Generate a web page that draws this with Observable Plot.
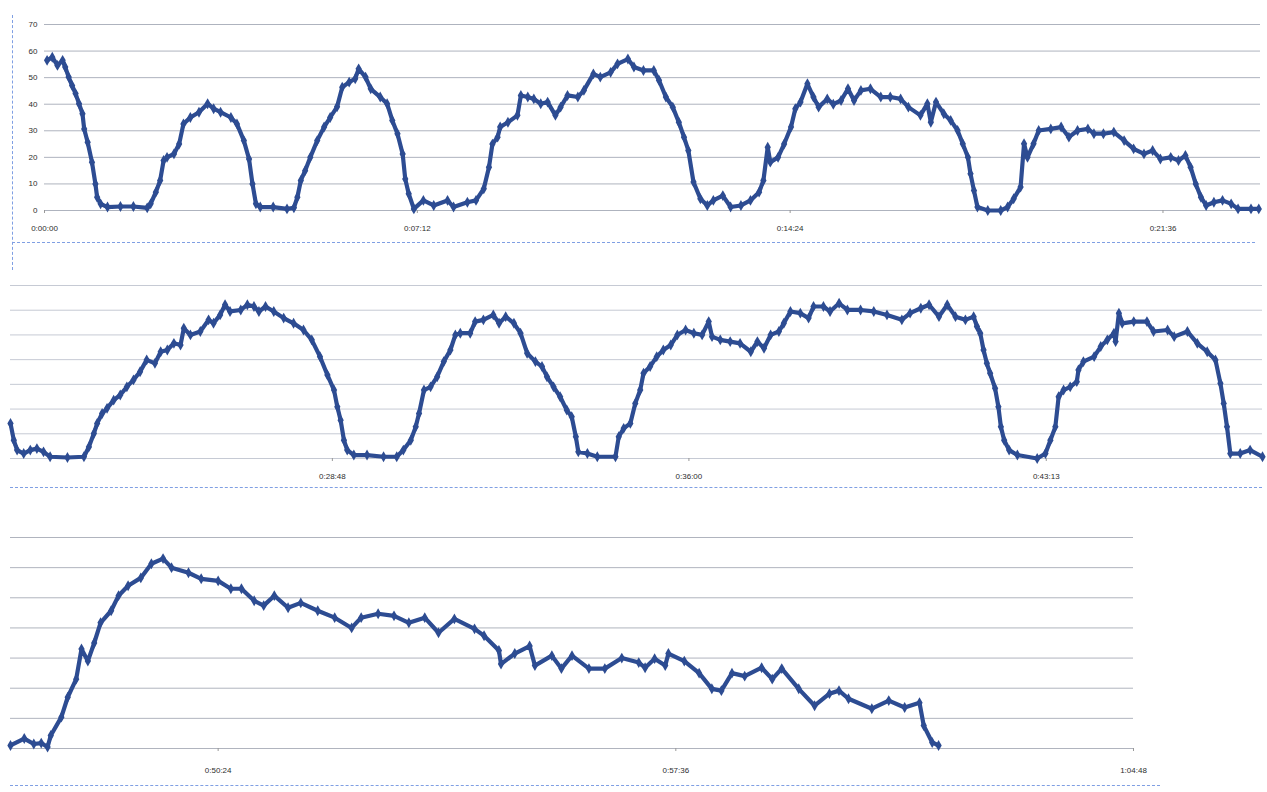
<!DOCTYPE html>
<html>
<head>
<meta charset="utf-8">
<script src="https://cdn.jsdelivr.net/npm/d3@7"></script>
<script src="https://cdn.jsdelivr.net/npm/@observablehq/plot@0.6"></script>
<style>
  html, body { margin: 0; padding: 0; background: #ffffff; }
  #page { position: relative; width: 1267px; height: 792px; overflow: hidden; background: #fff; }
  .panel { position: absolute; left: 0; }
  .dash-h { position: absolute; height: 0; border-top: 1px dashed #7f9fe3; }
  .dash-v { position: absolute; width: 0; border-left: 1px dashed #7f9fe3; }
</style>
</head>
<body>
<div id="page"></div>
<script>
// ---- data (time in seconds from start, value) ----
const yTicks = [0, 10, 20, 30, 40, 50, 60, 70];

const panel1Ticks = ["0:00:00", "0:07:12", "0:14:24", "0:21:36"];
const panel2Ticks = ["0:28:48", "0:36:00", "0:43:13"];
const panel3Ticks = ["0:50:24", "0:57:36", "1:04:48"];

const panel1Domain = [0, 1409];
const panel2Domain = [1338, 2855];
const panel3Domain = [2828, 3888];

const panel1Readings = [
[3,56.5],[9,57.7],[15,54.6],[21,56.5],[24,54],[28,50.2],[32,47],[36,44],[40,40.2],[44,36.4],[46,30.7],[50,25.7],[55,18.2],[59,10],[61,5],[65,2.5],[73,1.3],[88,1.5],[103,1.5],[119,1],[123,2.5],[129,6.9],[134,11.3],[138,18.8],[142,20],[150,21.3],[156,25],[161,32.6],[169,35],[179,37],[189,40.2],[196,38.3],[204,37],[216,35],[223,32.6],[231,26.3],[237,19.4],[241,10],[245,2.5],[250,1.3],[265,1.3],[281,0.6],[289,1],[293,5],[297,11.3],[302,15],[308,20],[316,26.3],[324,31.4],[331,35],[339,39],[345,46.4],[353,48.3],[360,49.6],[364,53.3],[372,50.2],[378,45.8],[389,42.7],[397,40.2],[403,33.9],[409,28.9],[415,21.3],[418,11.9],[422,6.3],[428,0.6],[439,3.8],[451,1.9],[467,3.8],[474,1.3],[490,3.1],[500,3.8],[509,8.2],[515,16.3],[519,25],[525,27.6],[528,31.4],[537,33.2],[548,35.8],[552,43.3],[560,42.7],[567,42],[575,40.2],[583,40.8],[592,35.8],[598,38.9],[606,43.3],[618,42.7],[625,45.2],[636,51.4],[644,50.2],[656,52],[664,55.2],[676,57],[683,54],[694,52.7],[706,52.7],[712,49],[720,42.7],[728,38.9],[735,33.2],[741,27.6],[746,22.6],[752,10.7],[760,4.4],[768,1.9],[775,3.8],[786,5.6],[795,1.3],[807,1.9],[818,3.8],[828,6.9],[833,11.3],[838,23.8],[841,18.2],[850,20],[857,25],[865,31.4],[870,38.3],[876,40.8],[884,47.7],[891,42.7],[897,38.9],[907,42],[914,40],[923,41.4],[931,45.8],[938,41.4],[946,45.2],[957,45.8],[969,42.7],[980,42.7],[992,42],[1001,38.9],[1015,35.8],[1023,40.2],[1027,33.2],[1033,40.8],[1042,36.4],[1050,33.9],[1058,30.1],[1064,25.1],[1070,20],[1073,13.8],[1077,7.5],[1081,1.3],[1093,0],[1108,0],[1116,1.3],[1123,4.4],[1131,8.8],[1135,25.1],[1139,20],[1146,25.1],[1152,30.1],[1166,30.7],[1178,31.4],[1187,27.6],[1197,30.1],[1209,30.7],[1216,28.9],[1227,28.9],[1239,29.5],[1251,26.3],[1262,23.2],[1274,21.3],[1284,22.6],[1293,19.4],[1305,20],[1314,18.8],[1322,20.7],[1328,16.3],[1334,10],[1340,5],[1346,1.9],[1355,3.1],[1365,3.8],[1375,2.5],[1383,0.6],[1398,0.6],[1407,0.6]
];

const panel2Readings = [
[1338,14.2],[1342,7.4],[1346,3.4],[1354,2],[1362,3.4],[1370,4],[1378,2.7],[1386,0.7],[1407,0.4],[1427,0.7],[1433,4.7],[1439,10.1],[1443,14.2],[1449,18.2],[1455,20.3],[1463,23.6],[1471,25.7],[1479,29],[1487,31.8],[1495,35.1],[1503,39.9],[1513,38.5],[1520,43.2],[1528,43.9],[1536,46.6],[1544,45.9],[1548,52.7],[1556,50],[1568,51.4],[1578,56.1],[1584,54.7],[1592,58.1],[1598,62.2],[1604,59.5],[1617,60.1],[1625,62.2],[1633,61.5],[1639,59.5],[1647,61.5],[1657,59.5],[1669,56.8],[1681,54.7],[1693,52],[1703,48],[1713,41.2],[1722,33.8],[1730,27.7],[1734,20.9],[1738,15.5],[1742,7.4],[1746,3.4],[1754,1.4],[1770,1.4],[1790,0.7],[1806,0.7],[1814,3.4],[1823,7.4],[1829,12.8],[1833,18.2],[1839,27.7],[1847,29],[1855,33.1],[1863,39.2],[1871,43.9],[1877,50],[1883,50.7],[1895,50.7],[1901,55.4],[1911,56.1],[1923,58.1],[1930,54.7],[1938,57.4],[1948,54.7],[1956,50.7],[1964,42.6],[1974,39.2],[1982,37.2],[1988,33.1],[1996,29],[2004,25],[2012,19.6],[2018,16.9],[2023,8.8],[2026,2.7],[2037,2],[2049,0.7],[2071,0.7],[2075,8.8],[2081,12.2],[2089,14.2],[2095,22.3],[2101,27.7],[2105,34.5],[2113,37.2],[2121,41.2],[2129,43.9],[2138,45.9],[2146,50],[2156,52],[2166,50.7],[2176,50],[2184,55.4],[2188,49.3],[2198,48],[2210,47.3],[2222,46.6],[2235,43.2],[2243,47.3],[2251,44.6],[2259,50],[2269,51.4],[2275,54.7],[2283,59.5],[2295,58.8],[2305,56.8],[2311,61.5],[2323,61.5],[2331,59.5],[2342,62.8],[2352,60.1],[2368,60.1],[2384,59.5],[2400,58.1],[2418,56.1],[2428,58.8],[2441,60.8],[2451,62.2],[2463,57.4],[2473,62.2],[2483,57.4],[2495,56.1],[2505,57.4],[2509,53.4],[2513,50.7],[2517,43.9],[2521,38.5],[2525,34.5],[2531,28.4],[2535,20.9],[2538,12.8],[2542,7.4],[2548,3.4],[2558,1.4],[2582,0],[2592,2],[2598,7.4],[2604,12.8],[2608,25],[2614,27.7],[2622,29],[2630,31.1],[2632,35.8],[2638,39.2],[2651,41.2],[2659,45.3],[2667,48],[2675,50.7],[2677,47.3],[2681,58.8],[2685,54.7],[2699,55.4],[2715,55.4],[2723,51.4],[2740,52],[2748,49.3],[2764,51.4],[2776,46.6],[2788,43.2],[2798,39.9],[2804,30.4],[2808,22.3],[2812,12.8],[2816,2],[2828,2],[2840,3.4],[2855,0.7]
];

const panel3Readings = [
[2828,1],[2841,3.3],[2850,1.5],[2857,1.8],[2863,0.5],[2866,4.3],[2876,10.4],[2882,17],[2890,23],[2895,33],[2901,29],[2907,35],[2913,41.7],[2923,45.7],[2930,50.7],[2939,54],[2951,56.6],[2961,61.3],[2972,63],[2980,60],[2996,58.3],[3008,56.3],[3024,55.6],[3036,53],[3046,53],[3058,49],[3067,47.4],[3077,50.7],[3090,46.7],[3102,48.3],[3118,45.7],[3134,43.4],[3150,40],[3159,43.4],[3175,44.7],[3190,44],[3204,41.7],[3219,43.4],[3232,38.4],[3247,43],[3266,39.7],[3275,37.4],[3289,32.5],[3291,28],[3304,31.5],[3318,34],[3323,27.5],[3339,30.8],[3348,26.5],[3358,30.8],[3374,26.5],[3389,26.5],[3405,30],[3421,28.5],[3427,26.8],[3436,29.8],[3446,27.5],[3449,31.5],[3464,29],[3478,25],[3490,19.8],[3499,19.2],[3509,25],[3521,24],[3537,26.8],[3547,23],[3556,26.5],[3572,19.8],[3587,14.2],[3601,18.2],[3610,19.2],[3619,16.5],[3641,13.2],[3657,15.9],[3672,13.6],[3686,15.2],[3690,7.6],[3698,2],[3704,1]
];

// ---- drawing ----
const lineColor = "#2d4c92";
const toSeconds = s => { const [h, m, sec] = s.split(":").map(Number); return h * 3600 + m * 60 + sec; };

function drawPanel(cfg) {
  const tickValues = cfg.ticks.map(toSeconds);
  const labelOf = new Map(tickValues.map((v, i) => [v, cfg.ticks[i]]));
  const svg = Plot.plot({
    width: 1267,
    height: cfg.height,
    marginTop: cfg.marginTop,
    marginBottom: cfg.marginBottom,
    marginLeft: cfg.marginLeft,
    marginRight: cfg.marginRight,
    x: { domain: cfg.domain, axis: null },
    y: { domain: [0, 70], axis: null },
    style: { fontFamily: "'Liberation Sans', Arial, sans-serif", fontSize: "8px", color: "#2e2e2e", background: "transparent", overflow: "visible" },
    marks: [
      Plot.ruleY(yTicks, { stroke: cfg.gridColor, strokeWidth: 1 }),
      cfg.showY ? Plot.axisY({ ticks: yTicks, tickSize: 0, tickPadding: 7, label: null, fontSize: 8 }) : null,
      Plot.axisX({ ticks: tickValues, tickFormat: d => labelOf.get(d), tickSize: 3, tickPadding: cfg.tickPadding, label: null, stroke: "#999", fontSize: 8 }),
      Plot.line(cfg.data, { x: d => d[0], y: d => d[1], stroke: lineColor, strokeWidth: 4.2, strokeLinejoin: "round", strokeLinecap: "round" }),
      Plot.dot(cfg.data, { x: d => d[0], y: d => d[1], symbol: "diamond", r: 3.3, fill: lineColor, stroke: "none" })
    ]
  });
  const div = document.createElement("div");
  div.className = "panel";
  div.style.top = cfg.top + "px";
  div.appendChild(svg);
  document.getElementById("page").appendChild(div);
}

drawPanel({ data: panel1Readings, domain: panel1Domain, ticks: panel1Ticks, top: 0, height: 240,
  marginTop: 24, marginBottom: 30, marginLeft: 44, marginRight: 7, showY: true, tickPadding: 12, gridColor: "#aeb3be" });
drawPanel({ data: panel2Readings, domain: panel2Domain, ticks: panel2Ticks, top: 260, height: 223,
  marginTop: 25, marginBottom: 25, marginLeft: 10, marginRight: 5, showY: false, tickPadding: 12, gridColor: "#c6cad4" });
drawPanel({ data: panel3Readings, domain: panel3Domain, ticks: panel3Ticks, top: 510, height: 268,
  marginTop: 27, marginBottom: 30, marginLeft: 10, marginRight: 134, showY: false, tickPadding: 16, gridColor: "#b0b4be" });

// decorative selection borders of the scanned chart frames
function dash(cls, style) {
  const d = document.createElement("div");
  d.className = cls;
  Object.assign(d.style, style);
  document.getElementById("page").appendChild(d);
}
dash("dash-v", { left: "12px", top: "15px", height: "255px" });
dash("dash-h", { left: "12px", top: "242px", width: "1243px" });
dash("dash-h", { left: "10px", top: "487px", width: "1252px" });
dash("dash-h", { left: "10px", top: "785px", width: "1150px" });
</script>
</body>
</html>
